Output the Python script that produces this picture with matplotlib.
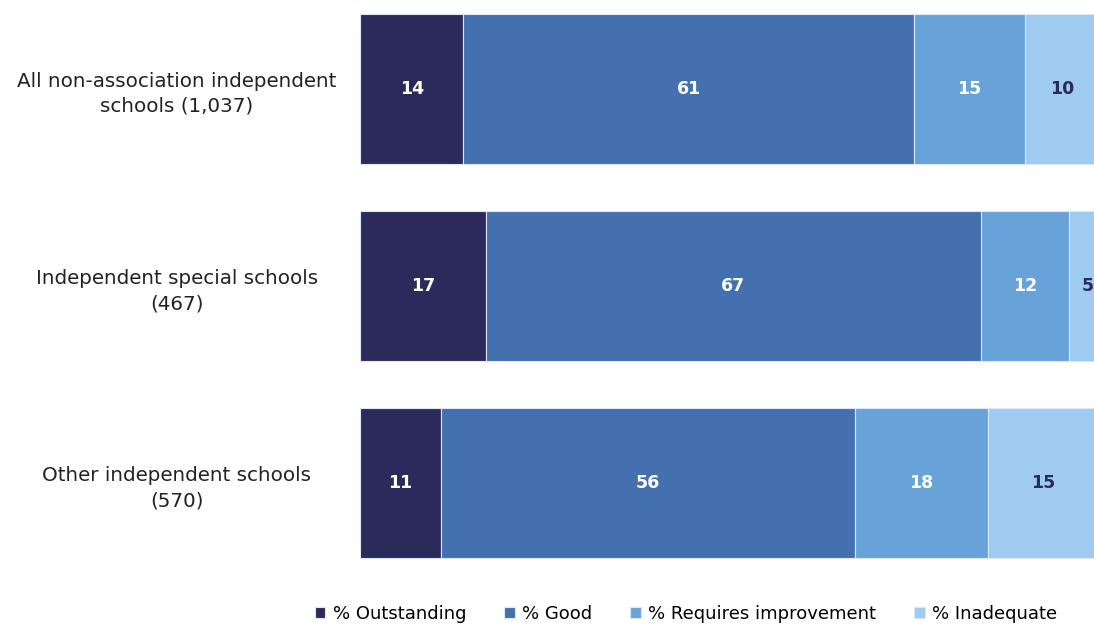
import numpy as np
import matplotlib.pyplot as plt

categories = ['All non-association independent\nschools (1,037)',
              'Independent special schools\n(467)',
              'Other independent schools\n(570)']
series = ['% Outstanding', '% Good', '% Requires improvement', '% Inadequate']
outstanding = [14, 17, 11]
good = [61, 67, 56]
requires_improvement = [15, 12, 18]
inadequate = [10, 5, 15]

colors = ['#2b2a5a', '#4470b0', '#67a3d8', '#9ecbef']
label_colors = ['white', 'white', 'white', '#2b2a5a']

fig = plt.figure(figsize=(10.94, 6.25), dpi=100)
ax = fig.add_axes([360 / 1094, 1 - 581.5 / 625, 739 / 1094, 591 / 625])

ind = np.arange(len(categories))
left = np.zeros(len(categories))
bars = []
for vals, col, lcol, name in zip([outstanding, good, requires_improvement, inadequate],
                                 colors, label_colors, series):
    rects = ax.barh(ind, vals, 0.76, left=left, color=col, edgecolor='#dce8f5',
                    linewidth=0.8, label=name)
    bars.append(rects)
    for i, v in enumerate(vals):
        ax.text(left[i] + v / 2, ind[i], str(v), ha='center', va='center',
                color=lcol, fontsize=12.5, fontweight='bold')
    left = left + np.array(vals)

ax.set_xlim(0, 100)
ax.set_ylim(2.5, -0.5)
ax.set_yticks(ind)
ax.set_yticklabels(categories, fontsize=14.3, color='#222222', ha='center',
                   linespacing=1.4)
ax.tick_params(axis='y', length=0, pad=132)
ax.set_xticks([])
for s in ax.spines.values():
    s.set_visible(False)

fig.legend(handles=bars, labels=series, loc='center', ncol=4,
           bbox_to_anchor=(686 / 1094, 1 - 614 / 625), frameon=False,
           fontsize=13, handlelength=0.6, handleheight=0.6, handletextpad=0.4,
           columnspacing=2.1)

fig.savefig('out.png', dpi=100)
